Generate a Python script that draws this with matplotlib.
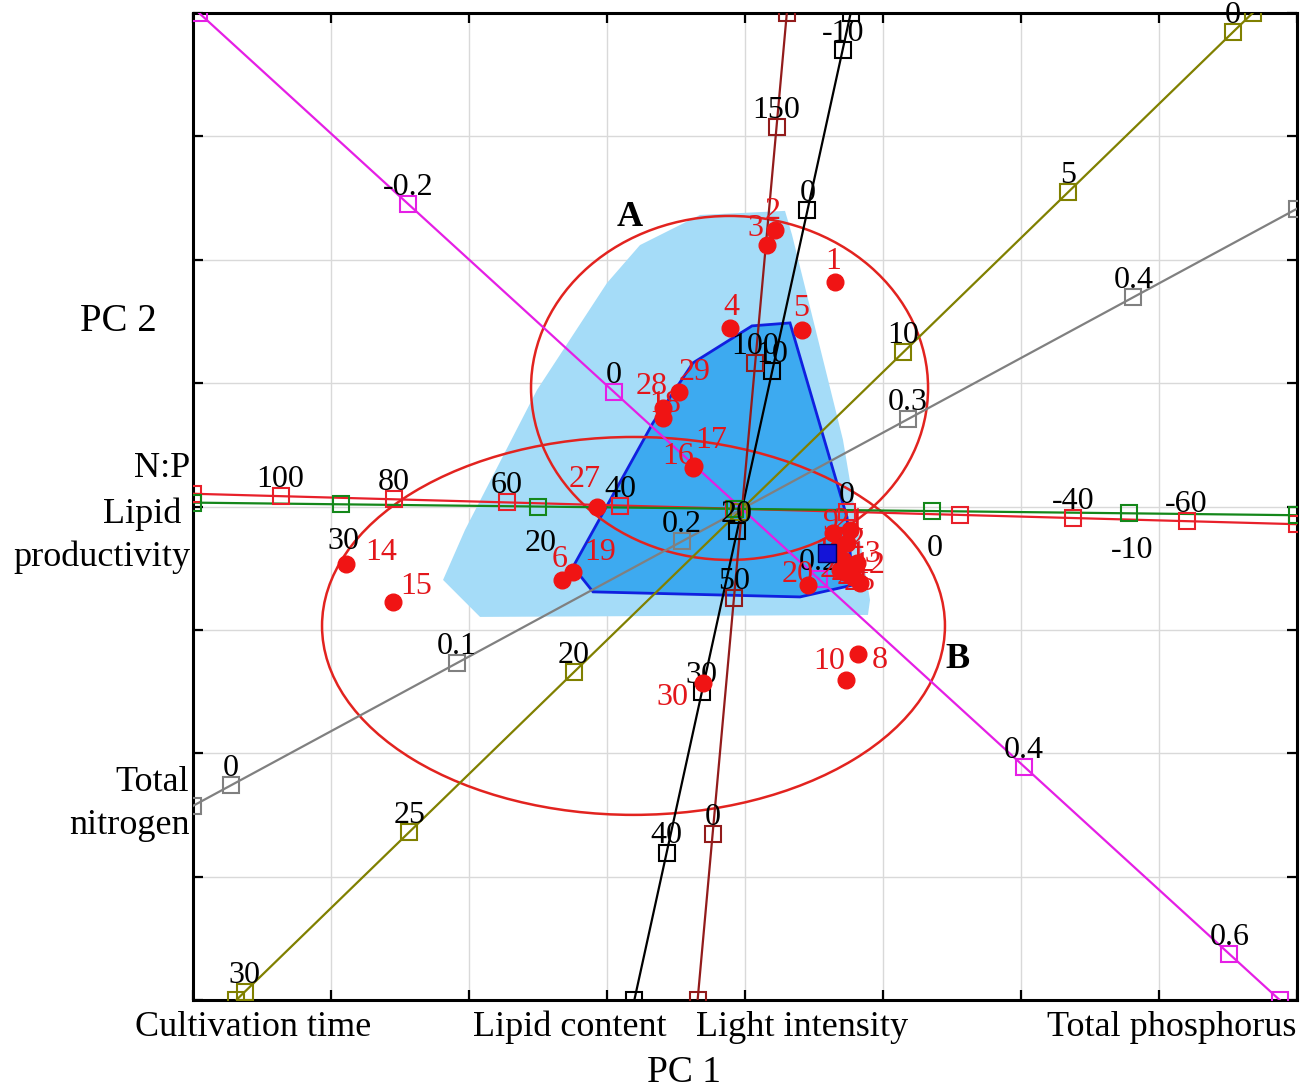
import numpy as np
import matplotlib.pyplot as plt
from matplotlib.patches import Polygon, Ellipse

plt.rcParams['font.family'] = ['Liberation Serif', 'DejaVu Serif']

# -------------------------------
# Sample scores (PC1, PC2)
# -------------------------------
sample_ids = [1, 2, 3, 4, 5, 28, 18, 29, 16, 17, 27, 6, 19, 14, 15, 30, 10, 8,
              9, 21, 22, 7, 11, 12, 13, 23, 24, 25, 26, 20]
pc1 = [0.652, 0.217, 0.159, -0.109, 0.413, -0.594, -0.594, -0.478, -0.377, -0.370,
       -1.072, -1.326, -1.246, -2.891, -2.551, -0.304, 0.732, 0.819,
       0.638, 0.761, 0.739, 0.674, 0.652, 0.710, 0.812, 0.688, 0.783, 0.833, 0.739, 0.457]
pc2 = [1.820, 2.241, 2.120, 1.447, 1.431, 0.797, 0.718, 0.928, 0.313, 0.329,
       -0.003, -0.595, -0.530, -0.465, -0.773, -1.430, -1.406, -1.196,
       -0.214, -0.190, -0.295, -0.336, -0.376, -0.433, -0.457, -0.514, -0.570, -0.619, -0.538, -0.635]

# label offsets (points) for the sample numbers
label_dx = [-1.4, -1.4, -8.6, 0.7, -0.7, -8.0, 1.4, 11.5, -10.8, 12.2,
            -8.6, -1.4, 19.4, 25.2, 16.6, -22.3, -12.2, 15.8,
            -1.4, 0.0, 2.0, -3.0, -3.0, 18.7, 5.8, -3.0, 0.0, 0.0, 0.0, -7.2]
label_dy = [14.4, 13.0, 12.2, 15.0, 15.8, 15.8, 9.4, 14.4, 7.9, 18.0,
            19.4, 14.4, 13.7, 7.9, 10.8, -10.8, 13.0, -4.3,
            7.2, 6.0, 2.0, 3.0, 2.0, -4.3, 5.8, 0.0, 0.0, 0.0, 0.0, 7.2]

# highlighted point
best_pc1, best_pc2 = 0.594, -0.376

# -------------------------------
# Hull regions
# -------------------------------
outer_pc1 = [-2.188, -2.029, -1.507, -1.000, -0.761, -0.326, 0.290, 0.341, 0.710, 0.906, 0.891, -1.920]
outer_pc2 = [-0.595, -0.190, 0.945, 1.812, 2.119, 2.363, 2.396, 2.201, 0.540, -0.757, -0.879, -0.895]
inner_pc1 = [-1.246, -1.101, 0.399, 0.783, 0.739, 0.326, 0.051, -0.377, -0.667]
inner_pc2 = [-0.489, -0.692, -0.733, -0.636, -0.086, 1.488, 1.464, 1.164, 0.678]

# cluster ellipses: centre, width, height
ell_a = (-0.112, 0.961, 2.877, 2.788)
ell_b = (-0.808, -0.968, 4.514, 3.063)

# -------------------------------
# Calibrated variable axes
# -------------------------------
origin = (-0.0217, -0.0194)

tp_dir, tp_mean = (7.4366, -7.5972), 0.125
tp_ticks = [-0.2, 0, 0.2, 0.4, 0.6]
tp_labels = ['-0.2', '0', '0.2', '0.4', '0.6']

ct_dir, ct_mean = (-0.2387, -0.2593), 14.9
ct_ticks = [30, 25, 20, 15, 10, 5, 0]
ct_labels = ['30', '25', '20', '', '10', '5', '0']

tn_dir, tn_mean = (16.341, 9.8865), 0.2265
tn_ticks = [0, 0.1, 0.2, 0.3, 0.4]
tn_labels = ['0', '0.1', '0.2', '0.3', '0.4']

lc_dir, lc_mean = (-0.025507, -0.13015), 18.6
lc_ticks = [40, 30, 20, 10, 0, -10]
lc_labels = ['40', '30', '20', '10', '0', '-10']

li_dir, li_mean = (0.003087, 0.038201), 69.0
li_ticks = [0, 50, 100, 150]
li_labels = ['0', '50', '100', '150']

np_dir, np_mean = (-0.041033, 0.0012662), 18.5
np_ticks = [100, 80, 60, 40, 20, 0, -20, -40, -60]
np_labels = ['100', '80', '60', '40', '', '0', '', '-40', '-60']

lp_dir, lp_mean = (-0.14275, 0.0018233), 9.64
lp_ticks = [30, 20, 10, 0, -10]
lp_labels = ['30', '20', '', '0', '-10']

variables = [
    (tp_dir, tp_mean, tp_ticks, tp_labels, '#E51FE5', 'above'),
    (ct_dir, ct_mean, ct_ticks, ct_labels, '#808000', 'above'),
    (tn_dir, tn_mean, tn_ticks, tn_labels, '#808080', 'above'),
    (lc_dir, lc_mean, lc_ticks, lc_labels, 'black', 'above'),
    (li_dir, li_mean, li_ticks, li_labels, '#921B1B', 'above'),
    (np_dir, np_mean, np_ticks, np_labels, '#E8202A', 'above'),
    (lp_dir, lp_mean, lp_ticks, lp_labels, '#14871A', 'below'),
]

LIM = 4.0


def span(d):
    # parameter range where origin + t*d stays inside the plot box
    lo, hi = -np.inf, np.inf
    for k in range(2):
        if abs(d[k]) > 1e-12:
            a = (-LIM - origin[k]) / d[k]
            b = (LIM - origin[k]) / d[k]
            lo, hi = max(lo, min(a, b)), min(hi, max(a, b))
    return lo, hi


fig = plt.figure(figsize=(13.11, 10.89), dpi=100)
ax = fig.add_axes([193 / 1311, 89 / 1089, 1104 / 1311, 987 / 1089])
ax.set_xlim(-LIM, LIM)
ax.set_ylim(-LIM, LIM)

ax.set_xticks(np.arange(-4, 5))
ax.set_yticks(np.arange(-4, 5))
ax.tick_params(direction='in', length=7, width=1.6, top=True, right=True,
               labelbottom=False, labelleft=False)
ax.grid(True, color='#d9d9d9', lw=1.0, zorder=0)
ax.set_axisbelow(True)
for s in ax.spines.values():
    s.set_linewidth(2.2)

# hull regions
ax.add_patch(Polygon(np.column_stack([outer_pc1, outer_pc2]), closed=True,
                     fc='#A5DCF8', ec='none', zorder=1))
ax.add_patch(Polygon(np.column_stack([inner_pc1, inner_pc2]), closed=True,
                     fc='#3DAAF0', ec='#1020E0', lw=2.0, zorder=1.5))

# ellipses
for cx, cy, w, h in (ell_a, ell_b):
    ax.add_patch(Ellipse((cx, cy), w, h, fill=False, ec='#E2231F', lw=1.8, zorder=2))

# variable axes
for d, mean, ticks, labels, color, side in variables:
    lo, hi = span(d)
    ends_x = [origin[0] + lo * d[0], origin[0] + hi * d[0]]
    ends_y = [origin[1] + lo * d[1], origin[1] + hi * d[1]]
    ax.plot(ends_x, ends_y, color=color, lw=1.6, zorder=3)
    tx = [origin[0] + (v - mean) * d[0] for v in ticks]
    ty = [origin[1] + (v - mean) * d[1] for v in ticks]
    ax.plot(tx + ends_x, ty + ends_y, 's', mfc='none', mec=color, ms=11.5,
            mew=1.5, zorder=4)
    for x, y, lab in zip(tx, ty, labels):
        if not lab:
            continue
        if side == 'above':
            ax.annotate(lab, (x, y), xytext=(0, 6.5), textcoords='offset points',
                        ha='center', va='baseline', fontsize=23, zorder=5)
        else:
            ax.annotate(lab, (x, y), xytext=(2, -32), textcoords='offset points',
                        ha='center', va='baseline', fontsize=23, zorder=5)

# sample labels and points
for sid, x, y, dx, dy in zip(sample_ids, pc1, pc2, label_dx, label_dy):
    ax.annotate(str(sid), (x, y), xytext=(dx, dy), textcoords='offset points',
                ha='center', va='center', fontsize=23, color='#E3161B', zorder=6)
ax.plot(pc1, pc2, 'o', color='#F01414', ms=12, zorder=7)
ax.plot([best_pc1], [best_pc2], 's', color='#1414D8', mec='#000060', ms=12.5,
        mew=1.0, zorder=8)

ax.text(-0.833, 2.339, 'A', fontsize=26, fontweight='bold', ha='center', va='center', zorder=9)
ax.text(1.543, -1.243, 'B', fontsize=26, fontweight='bold', ha='center', va='center', zorder=9)


# axis names around the frame (pixel positions)
def ftext(px, py, s, size=26, ha='center'):
    fig.text(px / 1311, 1 - py / 1089, s, fontsize=size, ha=ha, va='baseline')


ftext(253, 1036, 'Cultivation time')
ftext(570, 1036, 'Lipid content')
ftext(802, 1036, 'Light intensity')
ftext(1172, 1036, 'Total phosphorus')
ftext(684, 1082, 'PC 1', size=27)
ftext(118, 331, 'PC 2', size=28)
ftext(190, 477, 'N:P', ha='right')
ftext(181, 523, 'Lipid', ha='right')
ftext(190, 566, 'productivity', ha='right')
ftext(189, 791, 'Total', ha='right')
ftext(190, 834, 'nitrogen', ha='right')

fig.savefig('out.png', dpi=100)
